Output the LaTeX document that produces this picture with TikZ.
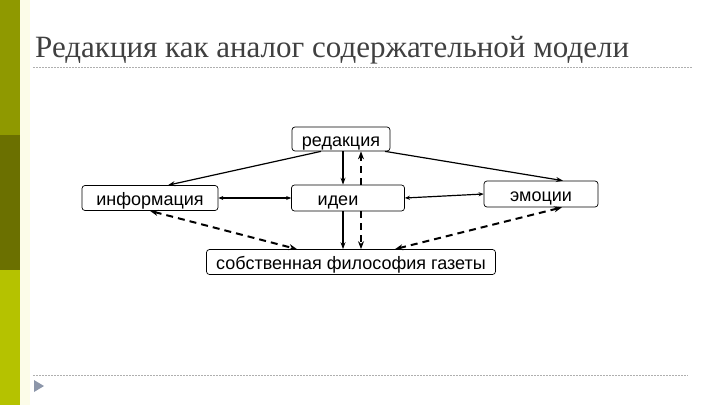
\documentclass[tikz,border=0pt]{standalone}
\usepackage{fontspec}
\setmainfont{Liberation Sans}
\newfontfamily\titlefont{Liberation Serif}
\usetikzlibrary{arrows.meta}

\definecolor{barTop}{RGB}{143,153,0}
\definecolor{barMid}{RGB}{107,112,0}
\definecolor{barLow}{RGB}{181,194,0}
\definecolor{stripe}{RGB}{252,252,232}
\definecolor{titlegray}{RGB}{64,64,64}
\definecolor{rulegray}{RGB}{175,175,175}
\definecolor{bullet}{RGB}{140,150,170}

\tikzset{
  box/.style={draw,fill=white,rounded corners=3pt,line width=0.7pt,
    inner sep=0pt,text height=16pt,text depth=2pt,
    font=\fontsize{18}{18}\selectfont},
  link/.style={line width=1.2pt,-{Stealth[length=7pt,width=5pt]}},
  twolink/.style={line width=1.2pt,
    {Stealth[length=5pt,width=4pt]}-{Stealth[length=5pt,width=4pt]}},
  dlink/.style={line width=2pt,dash pattern=on 7pt off 5pt,
    -{Stealth[length=8pt,width=6pt]}},
  twodlink/.style={dlink,{Stealth[length=8pt,width=6pt]}-{Stealth[length=8pt,width=6pt]}},
  rule/.style={rulegray,line width=0.5pt,dash pattern=on 2pt off 1pt},
}

\begin{document}
\begin{tikzpicture}[x=1pt,y=-1pt]
  \useasboundingbox (0,0) rectangle (720,405);

  % side bar
  \fill[barTop] (0,0) rectangle (20,135);
  \fill[barMid] (0,135) rectangle (20,270);
  \fill[barLow] (0,270) rectangle (20,405);
  \fill[stripe] (20,0) rectangle (30,405);

  % title and rules
  \node[anchor=base west,inner sep=0pt,text=titlegray,
    font=\titlefont\fontsize{31}{31}\selectfont] (title) at (35,57)
    {Редакция как аналог содержательной модели};
  \draw[rule] (33,67) -- (692,67);
  \draw[rule] (33,375) -- (688,375);
  \fill[bullet] (34,380) -- (44,386) -- (34,392) -- cycle;

  % boxes
  \node[box,minimum width=98pt,minimum height=24pt] (red) at (341,139) {редакция};
  \node[box,minimum width=136pt,minimum height=25pt] (info) at (150,198) {информация};
  \node[box,minimum width=113pt,minimum height=26pt] (idei) at (348,198) {\hspace*{-20pt}идеи};
  \node[box,minimum width=114pt,minimum height=26pt] (emo) at (541,194) {эмоции};
  \node[box,minimum width=289pt,minimum height=25pt] (phil) at (351,262)
    {собственная философия газеты};

  % solid arrows
  \draw[link] ([xshift=-20pt]red.south) -- ([xshift=18pt]info.north);
  \draw[link] ([xshift=44pt]red.south) -- ([xshift=22pt]emo.north);
  \draw[link] ([xshift=2pt]red.south) -- ([xshift=-5pt]idei.north);
  \draw[link] ([xshift=-5pt]idei.south) -- ([xshift=-8pt]phil.north);
  \draw[twolink] (info.east) -- (idei.west);
  \draw[twolink] (emo.west) -- (idei.east);

  % dashed arrows
  \draw[dlink] ([xshift=13pt]idei.north) -- ([xshift=20pt]red.south);
  \draw[dlink] ([xshift=13pt]idei.south) -- ([xshift=10pt]phil.north);
  \draw[twodlink] (info.south) -- ([xshift=-54pt]phil.north);
  \draw[twodlink] ([xshift=21pt]emo.south) -- ([xshift=44pt]phil.north);
\end{tikzpicture}
\end{document}
